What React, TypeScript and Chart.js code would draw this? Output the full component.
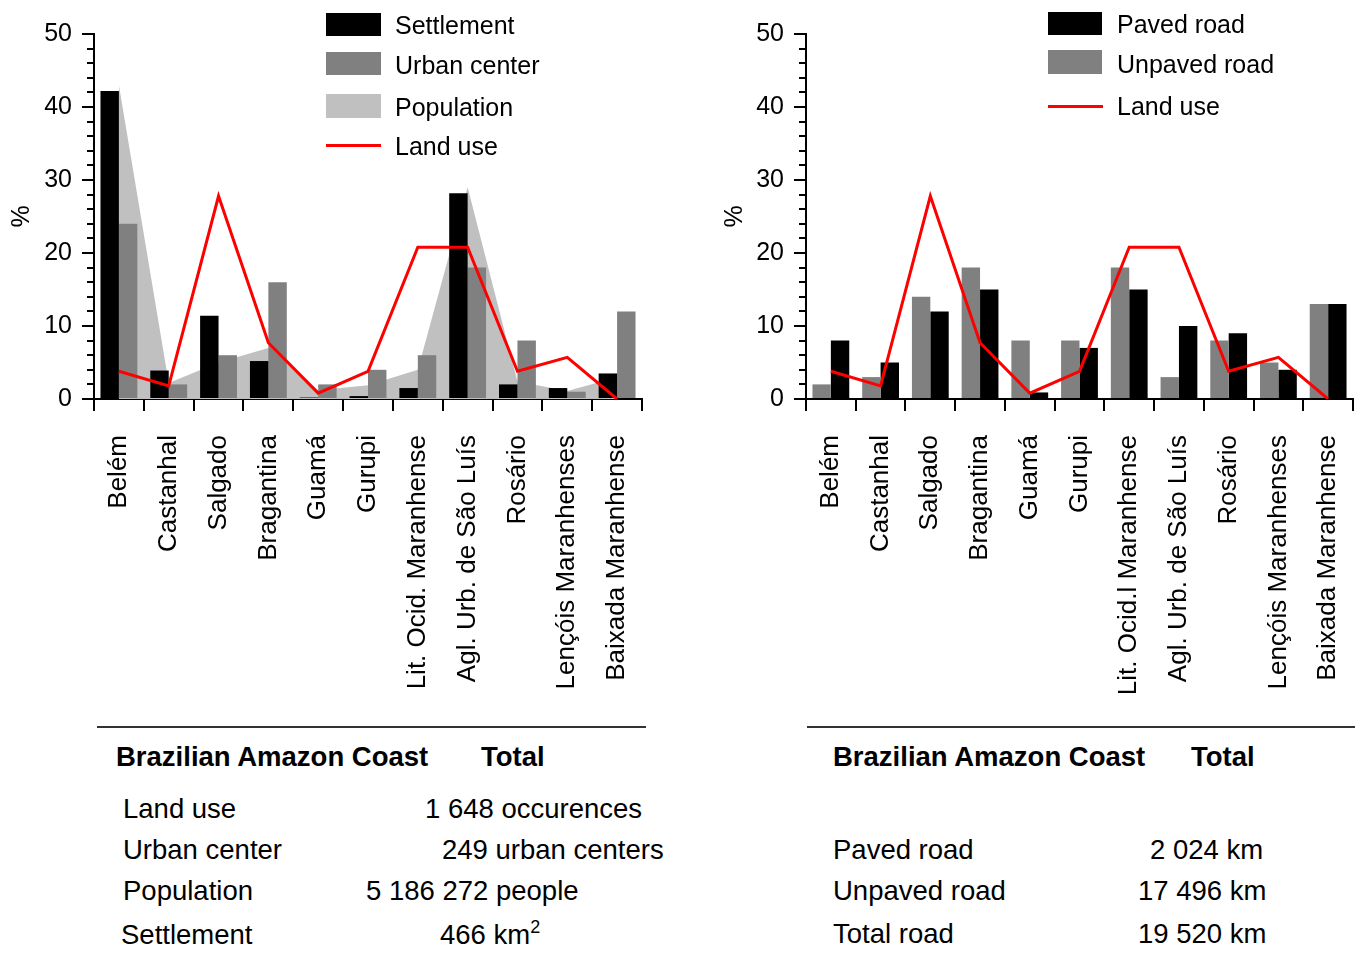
import React, { useEffect, useRef } from "react";
import { Chart, registerables } from "chart.js";

Chart.register(...registerables);

const FONT = "'Liberation Sans', Arial, Helvetica, sans-serif";

// ---------- Data ----------
const leftCategories = [
  "Belém",
  "Castanhal",
  "Salgado",
  "Bragantina",
  "Guamá",
  "Gurupi",
  "Lit. Ocid. Maranhense",
  "Agl. Urb. de São Luís",
  "Rosário",
  "Lençóis Maranhenses",
  "Baixada Maranhense",
];
const rightCategories = [
  "Belém",
  "Castanhal",
  "Salgado",
  "Bragantina",
  "Guamá",
  "Gurupi",
  "Lit. Ocid.l Maranhense",
  "Agl. Urb. de São Luís",
  "Rosário",
  "Lençóis Maranhenses",
  "Baixada Maranhense",
];
const settlement = [42.2, 3.9, 11.4, 5.2, 0.2, 0.4, 1.5, 28.2, 2.0, 1.5, 3.5];
const urbanCenter = [24, 2, 6, 16, 2, 4, 6, 18, 8, 1, 12];
const population = [43, 2.2, 5, 7, 1.2, 1.9, 4, 29, 2.4, 1.1, 3];
const landUse = [3.8, 1.8, 27.8, 7.7, 0.8, 3.8, 20.8, 20.8, 3.8, 5.7, 0];
const pavedRoad = [8, 5, 12, 15, 0.9, 7, 15, 10, 9, 4, 13];
const unpavedRoad = [2, 3, 14, 18, 8, 8, 18, 3, 8, 5, 13];
const yMin = 0;
const yMax = 50;
const yMajorStep = 10;
const yMinorStep = 2;

// ---------- Plugins ----------
const minorTicksPlugin = {
  id: "minorTicks",
  afterDraw(chart: any) {
    const y = chart.scales.y;
    const ctx = chart.ctx;
    ctx.save();
    ctx.strokeStyle = "#000";
    ctx.lineWidth = 2;
    for (let v = yMin; v <= yMax; v += yMinorStep) {
      if (v % yMajorStep === 0) continue;
      const py = Math.round(y.getPixelForValue(v));
      ctx.beginPath();
      ctx.moveTo(y.right - 7, py);
      ctx.lineTo(y.right, py);
      ctx.stroke();
    }
    ctx.restore();
  },
};

function makeOptions(yAxisWidth: number, rightPad: number, titlePad: number) {
  return {
    responsive: false,
    animation: false,
    devicePixelRatio: 1,
    layout: { padding: { left: 0, top: 34, right: rightPad, bottom: 0 } },
    plugins: { legend: { display: false }, tooltip: { enabled: false } },
    datasets: { bar: { categoryPercentage: 0.74, barPercentage: 1 } },
    scales: {
      x: {
        grid: {
          offset: true,
          drawOnChartArea: false,
          drawTicks: true,
          tickLength: 12,
          color: "#000",
          lineWidth: 2,
        },
        border: { display: true, color: "#000", width: 2 },
        ticks: {
          color: "#000",
          font: { size: 26, family: FONT },
          minRotation: 90,
          maxRotation: 90,
          autoSkip: false,
          padding: 24,
        },
        afterFit: (s: any) => {
          s.height = 321;
          s.paddingLeft = 0;
          s.paddingRight = 0;
        },
      },
      y: {
        min: yMin,
        max: yMax,
        ticks: {
          stepSize: yMajorStep,
          color: "#000",
          font: { size: 25, family: FONT },
          padding: 10,
        },
        grid: {
          drawOnChartArea: false,
          tickLength: 12,
          color: "#000",
          lineWidth: 2,
        },
        border: { display: true, color: "#000", width: 2 },
        title: {
          display: true,
          text: "%",
          color: "#000",
          font: { size: 25, family: FONT },
          padding: { top: titlePad, bottom: 0 },
        },
        afterFit: (s: any) => {
          s.width = yAxisWidth;
          s.paddingTop = 0;
          s.paddingBottom = 0;
        },
      },
    },
  };
}

function leftConfig(): any {
  return {
    type: "bar",
    data: {
      labels: leftCategories,
      datasets: [
        {
          type: "line",
          label: "Land use",
          data: landUse,
          borderColor: "#ff0000",
          borderWidth: 3,
          pointRadius: 0,
          fill: false,
          tension: 0,
          order: 0,
        },
        { type: "bar", label: "Settlement", data: settlement, backgroundColor: "#000000", order: 1 },
        { type: "bar", label: "Urban center", data: urbanCenter, backgroundColor: "#808080", order: 1 },
        {
          type: "line",
          label: "Population",
          data: population,
          borderColor: "rgba(0,0,0,0)",
          borderWidth: 1,
          backgroundColor: "#c0c0c0",
          fill: "origin",
          pointRadius: 0,
          tension: 0,
          order: 2,
        },
      ],
    },
    options: makeOptions(94, 39, 7),
    plugins: [minorTicksPlugin],
  };
}

function rightConfig(): any {
  return {
    type: "bar",
    data: {
      labels: rightCategories,
      datasets: [
        {
          type: "line",
          label: "Land use",
          data: landUse,
          borderColor: "#ff0000",
          borderWidth: 3,
          pointRadius: 0,
          fill: false,
          tension: 0,
          order: 0,
        },
        { type: "bar", label: "Unpaved road", data: unpavedRoad, backgroundColor: "#808080", order: 1 },
        { type: "bar", label: "Paved road", data: pavedRoad, backgroundColor: "#000000", order: 1 },
      ],
    },
    options: makeOptions(125, 9, 39),
    plugins: [minorTicksPlugin],
  };
}

function ChartBox({ make, left, width, height }: any) {
  const ref = useRef<HTMLCanvasElement>(null);
  useEffect(() => {
    const chart = new Chart(ref.current as HTMLCanvasElement, make());
    return () => chart.destroy();
  }, []);
  return (
    <canvas
      ref={ref}
      width={width}
      height={height}
      style={{ position: "absolute", left, top: 0, width, height, display: "block" }}
    />
  );
}

const abs = (left: number, top: number, extra: any = {}) => ({
  position: "absolute" as const,
  left,
  top,
  whiteSpace: "nowrap" as const,
  ...extra,
});

function LegendBox({ left, top, w, h, color }: any) {
  return <div style={abs(left, top, { width: w, height: h, background: color })} />;
}
function LegendLine({ left, top, w }: any) {
  return <div style={abs(left, top, { width: w, height: 3, background: "#ff0000" })} />;
}
function LText({ left, center, children }: any) {
  return (
    <div style={abs(left, center - 15, { fontSize: 25, lineHeight: "30px" })}>{children}</div>
  );
}
function TText({ left, center, bold, children }: any) {
  return (
    <div
      style={abs(left, center - 16, {
        fontSize: 27.5,
        lineHeight: "32px",
        fontWeight: bold ? "bold" : "normal",
      })}
    >
      {children}
    </div>
  );
}

export default function App() {
  return (
    <div
      style={{
        position: "absolute",
        left: 0,
        top: 0,
        width: 1362,
        height: 960,
        background: "#fff",
        fontFamily: FONT,
        color: "#000",
        overflow: "hidden",
      }}
    >
      <ChartBox make={leftConfig} left={0} width={681} height={720} />
      <ChartBox make={rightConfig} left={681} width={681} height={720} />

      {/* Left legend */}
      <LegendBox left={326} top={13} w={55} h={23} color="#000000" />
      <LText left={395} center={25}>Settlement</LText>
      <LegendBox left={326} top={52} w={55} h={23} color="#808080" />
      <LText left={395} center={65}>Urban center</LText>
      <LegendBox left={326} top={94} w={55} h={24} color="#c0c0c0" />
      <LText left={395} center={107}>Population</LText>
      <LegendLine left={326} top={144} w={55} />
      <LText left={395} center={146}>Land use</LText>

      {/* Right legend */}
      <LegendBox left={1048} top={12} w={54} h={23} color="#000000" />
      <LText left={1117} center={24}>Paved road</LText>
      <LegendBox left={1048} top={50} w={54} h={24} color="#808080" />
      <LText left={1117} center={64}>Unpaved road</LText>
      <LegendLine left={1048} top={105} w={55} />
      <LText left={1117} center={106}>Land use</LText>

      {/* Left table */}
      <div style={abs(97, 726, { width: 549, height: 2, background: "#333" })} />
      <TText left={116} center={757} bold>Brazilian Amazon Coast</TText>
      <TText left={481} center={757} bold>Total</TText>
      <TText left={123} center={809}>Land use</TText>
      <TText left={425} center={809}>1 648 occurences</TText>
      <TText left={123} center={850}>Urban center</TText>
      <TText left={442} center={850}>249 urban centers</TText>
      <TText left={123} center={891}>Population</TText>
      <TText left={366} center={891}>5 186 272 people</TText>
      <TText left={121} center={935}>Settlement</TText>
      <TText left={440} center={935}>
        466 km
        <span style={{ fontSize: 18, position: "relative", top: -11 }}>2</span>
      </TText>

      {/* Right table */}
      <div style={abs(807, 726, { width: 548, height: 2, background: "#333" })} />
      <TText left={833} center={757} bold>Brazilian Amazon Coast</TText>
      <TText left={1191} center={757} bold>Total</TText>
      <TText left={833} center={850}>Paved road</TText>
      <TText left={1150} center={850}>2 024 km</TText>
      <TText left={833} center={891}>Unpaved road</TText>
      <TText left={1138} center={891}>17 496 km</TText>
      <TText left={833} center={934}>Total road</TText>
      <TText left={1138} center={934}>19 520 km</TText>
    </div>
  );
}
